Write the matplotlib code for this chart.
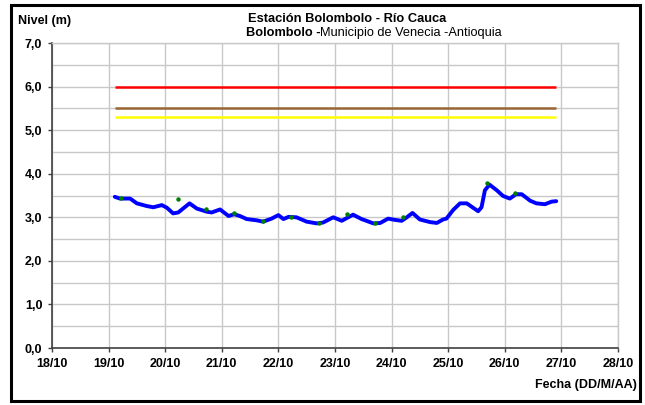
import matplotlib
matplotlib.use("Agg")
import matplotlib.pyplot as plt
from matplotlib.patches import Rectangle

plt.rcParams['font.family'] = ['Liberation Sans', 'DejaVu Sans']

# Nivel del rio (dia de octubre, metros)
nivel_dias = [19.11, 19.20, 19.38, 19.50, 19.67, 19.79, 19.94, 20.03, 20.14, 20.23,
              20.43, 20.56, 20.73, 20.82, 20.97, 21.12, 21.22, 21.32, 21.44, 21.62,
              21.73, 21.88, 22.00, 22.09, 22.18, 22.32, 22.50, 22.68, 22.79, 22.97,
              23.12, 23.32, 23.47, 23.68, 23.80, 23.94, 24.06, 24.18, 24.27, 24.37,
              24.50, 24.68, 24.80, 24.91, 24.97, 25.09, 25.21, 25.33, 25.44, 25.53,
              25.59, 25.65, 25.73, 25.86, 25.97, 26.09, 26.20, 26.30, 26.45, 26.56,
              26.71, 26.83, 26.91]
nivel_m = [3.47, 3.43, 3.43, 3.32, 3.26, 3.23, 3.28, 3.22, 3.09, 3.11,
           3.32, 3.20, 3.13, 3.11, 3.18, 3.03, 3.07, 3.03, 2.96, 2.93,
           2.90, 2.97, 3.05, 2.96, 3.01, 3.00, 2.90, 2.86, 2.88, 3.00,
           2.92, 3.06, 2.96, 2.86, 2.87, 2.97, 2.94, 2.92, 3.00, 3.10,
           2.95, 2.89, 2.87, 2.95, 2.97, 3.17, 3.32, 3.32, 3.22, 3.14,
           3.23, 3.62, 3.75, 3.62, 3.49, 3.43, 3.53, 3.53, 3.38, 3.32,
           3.30, 3.36, 3.37]

# Lecturas de mira (puntos verdes)
mira_dias = [19.22, 20.22, 20.72, 21.22, 21.72, 22.22, 22.72, 23.21, 23.71, 24.21,
             25.69, 26.19]
mira_m = [3.45, 3.41, 3.19, 3.09, 2.91, 3.00, 2.86, 3.07, 2.88, 3.00,
          3.79, 3.56]

# Umbrales de alerta
umbral_inicio = 19.11
umbral_fin = 26.90
umbral_rojo = 6.0
umbral_naranja = 5.5
umbral_amarillo = 5.3

x_ticks = [18, 19, 20, 21, 22, 23, 24, 25, 26, 27, 28]
x_labels = ["18/10", "19/10", "20/10", "21/10", "22/10", "23/10", "24/10",
            "25/10", "26/10", "27/10", "28/10"]
y_ticks = [0, 1, 2, 3, 4, 5, 6, 7]
y_labels = ["0,0", "1,0", "2,0", "3,0", "4,0", "5,0", "6,0", "7,0"]

fig = plt.figure(figsize=(6.45, 4.05), dpi=100)
ax = fig.add_axes([0.0806, 0.1407, 0.8774, 0.7531])

# grid
ax.set_xticks(x_ticks)
ax.set_yticks(y_ticks)
ax.set_yticks([0.5, 1.5, 2.5, 3.5, 4.5, 5.5, 6.5], minor=True)
ax.grid(True, which='both', color='#c8c8c8', linewidth=1.0)
ax.set_axisbelow(True)

ax.hlines(umbral_rojo, umbral_inicio, umbral_fin, color='#ff0000', linewidth=1.8)
ax.hlines(umbral_naranja, umbral_inicio, umbral_fin, color='#996633', linewidth=1.8)
ax.hlines(umbral_amarillo, umbral_inicio, umbral_fin, color='#ffff00', linewidth=1.8)

ax.plot(nivel_dias, nivel_m, color='#0000ff', linewidth=2.8,
        solid_capstyle='round', solid_joinstyle='round')
ax.plot(mira_dias, mira_m, 'o', color='#008000', markersize=3.2, markeredgewidth=0)

ax.set_xlim(18, 28)
ax.set_ylim(0, 7)
ax.set_xticklabels(x_labels, fontsize=9, fontweight='bold')
ax.set_yticklabels(y_labels, fontsize=9, fontweight='bold')
ax.tick_params(axis='both', which='major', length=3, width=1, color='#404040', pad=4)
ax.tick_params(axis='y', which='minor', length=0)

for side in ['left', 'bottom']:
    ax.spines[side].set_color('#404040')
    ax.spines[side].set_linewidth(1.2)
for side in ['top', 'right']:
    ax.spines[side].set_color('#c8c8c8')
    ax.spines[side].set_linewidth(1.0)

fig.text(347 / 645, 1 - 19 / 405, "Estación Bolombolo - Río Cauca", ha='center', va='center',
         fontsize=9.3, fontweight='bold')
fig.text(320 / 645, 1 - 33 / 405, "Bolombolo -", ha='right', va='center',
         fontsize=9.2, fontweight='bold')
fig.text(320 / 645, 1 - 33 / 405, "Municipio de Venecia -Antioquia", ha='left', va='center',
         fontsize=9.2)
fig.text(18 / 645, 1 - 21 / 405, "Nivel (m)", ha='left', va='center',
         fontsize=9, fontweight='bold')
fig.text(637 / 645, 1 - 385 / 405, "Fecha (DD/M/AA)", ha='right', va='center',
         fontsize=9, fontweight='bold')

# marco exterior
fig.patches.append(Rectangle((11 / 645, 4 / 405), 629 / 645, 396 / 405,
                             transform=fig.transFigure, fill=False,
                             edgecolor='black', linewidth=2.2))

fig.savefig("out.png", dpi=100)
